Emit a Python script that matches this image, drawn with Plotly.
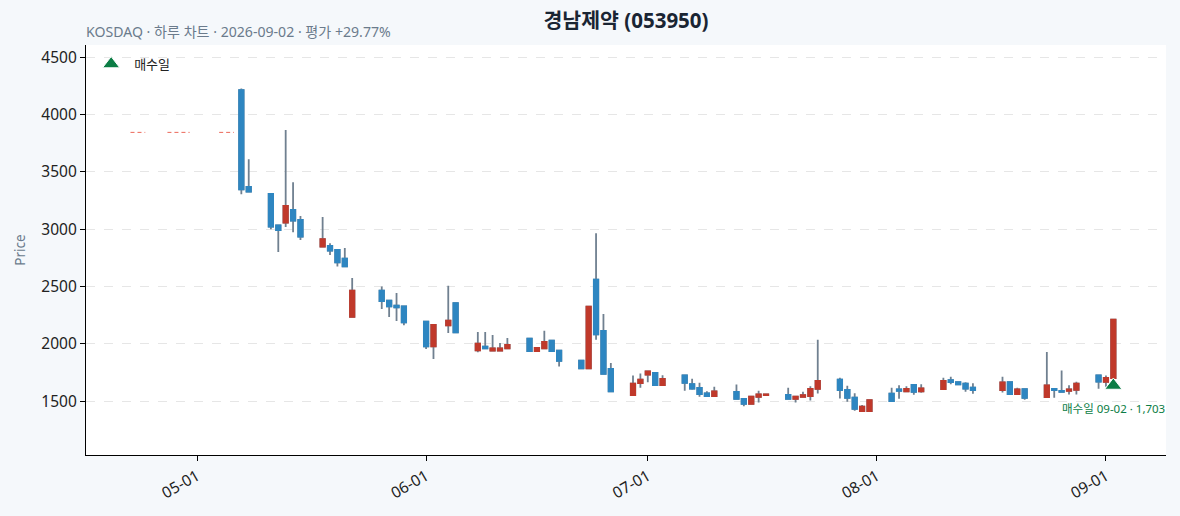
#!/bin/python
'''경남제약 daily candle chart with buy-day marker'''
import plotly.graph_objects as go

# Daily OHLC
dates = ['2026-05-07', '2026-05-08', '2026-05-11', '2026-05-12', '2026-05-13', '2026-05-14', '2026-05-15',
         '2026-05-18', '2026-05-19', '2026-05-20', '2026-05-21', '2026-05-22', '2026-05-26', '2026-05-27',
         '2026-05-28', '2026-05-29', '2026-06-01', '2026-06-02', '2026-06-04', '2026-06-05', '2026-06-08',
         '2026-06-09', '2026-06-10', '2026-06-11', '2026-06-12', '2026-06-15', '2026-06-16', '2026-06-17',
         '2026-06-18', '2026-06-19', '2026-06-22', '2026-06-23', '2026-06-24', '2026-06-25', '2026-06-26',
         '2026-06-29', '2026-06-30', '2026-07-01', '2026-07-02', '2026-07-03', '2026-07-06', '2026-07-07',
         '2026-07-08', '2026-07-09', '2026-07-10', '2026-07-13', '2026-07-14', '2026-07-15', '2026-07-16',
         '2026-07-17', '2026-07-20', '2026-07-21', '2026-07-22', '2026-07-23', '2026-07-24', '2026-07-27',
         '2026-07-28', '2026-07-29', '2026-07-30', '2026-07-31', '2026-08-03', '2026-08-04', '2026-08-05',
         '2026-08-06', '2026-08-07', '2026-08-10', '2026-08-11', '2026-08-12', '2026-08-13', '2026-08-14',
         '2026-08-18', '2026-08-19', '2026-08-20', '2026-08-21', '2026-08-24', '2026-08-25', '2026-08-26',
         '2026-08-27', '2026-08-28', '2026-08-31', '2026-09-01', '2026-09-02']
opens = [4213, 3369, 3308, 3033, 3059, 3169, 3082, 2850, 2856, 2821, 2743, 2236, 2464, 2378,
         2334, 2328, 2195, 1980, 2163, 2357, 1945, 1977, 1943, 1943, 1962, 2047, 1937, 1962,
         2029, 1942, 1855, 1788, 2560, 2114, 1783, 1554, 1658, 1734, 1748, 1641, 1727, 1649,
         1618, 1570, 1545, 1583, 1522, 1479, 1540, 1555, 1557, 1522, 1540, 1545, 1609, 1690,
         1600, 1531, 1414, 1414, 1568, 1603, 1588, 1644, 1586, 1606, 1684, 1667, 1655, 1620,
         1597, 1667, 1562, 1606, 1536, 1609, 1592, 1592, 1600, 1725, 1670, 1703]
highs = [4228, 3610, 3312, 3040, 3865, 3410, 3117, 3108, 2879, 2827, 2836, 2575, 2502, 2383,
         2444, 2332, 2200, 2170, 2508, 2362, 2105, 2105, 2079, 2009, 2053, 2052, 1970, 2116,
         2035, 1950, 1860, 2330, 2966, 2262, 1835, 1725, 1742, 1765, 1752, 1727, 1735, 1696,
         1661, 1588, 1627, 1647, 1530, 1545, 1592, 1560, 1618, 1545, 1583, 1632, 2036, 1705,
         1635, 1571, 1467, 1512, 1618, 1641, 1632, 1650, 1649, 1705, 1714, 1670, 1667, 1658,
         1714, 1672, 1618, 1610, 1931, 1612, 1768, 1641, 1670, 1730, 1725, 2215]
lows = [3306, 3320, 3001, 2801, 3019, 2975, 2906, 2845, 2775, 2676, 2671, 2233, 2305, 2236,
        2201, 2163, 1957, 1870, 2096, 2095, 1928, 1957, 1940, 1940, 1960, 1930, 1933, 1958,
        1935, 1803, 1780, 1780, 2038, 1735, 1585, 1550, 1618, 1667, 1638, 1638, 1592, 1600,
        1540, 1540, 1543, 1520, 1458, 1475, 1490, 1555, 1518, 1490, 1538, 1507, 1568, 1525,
        1496, 1418, 1410, 1412, 1498, 1522, 1585, 1557, 1575, 1600, 1649, 1645, 1583, 1566,
        1577, 1558, 1560, 1513, 1533, 1531, 1580, 1560, 1560, 1609, 1627, 1700]
closes = [3349, 3328, 3024, 2993, 3204, 3076, 2937, 2914, 2815, 2711, 2676, 2464, 2375, 2328,
          2319, 2189, 1980, 2166, 2203, 2102, 2003, 1962, 1962, 1962, 1992, 1937, 1966, 2018,
          1937, 1853, 1788, 2325, 2084, 1740, 1588, 1655, 1690, 1760, 1641, 1696, 1661, 1612,
          1562, 1545, 1586, 1522, 1479, 1540, 1560, 1560, 1522, 1540, 1553, 1609, 1679, 1597,
          1531, 1435, 1453, 1510, 1501, 1592, 1609, 1583, 1612, 1679, 1667, 1649, 1612, 1597,
          1664, 1562, 1603, 1531, 1638, 1597, 1583, 1603, 1655, 1673, 1705, 2212]

# dashed reference level drawn before the candles start (None = break)
ref_dates = ['2026-04-22', '2026-04-23', '2026-04-24', '2026-04-25',
             '2026-04-27', '2026-04-28', '2026-04-29', '2026-04-30', '2026-05-01',
             '2026-05-04', '2026-05-05', '2026-05-06']
ref_level = [3845, 3845, 3845, None, 3845, 3845, 3845, 3845, None, 3845, 3845, 3845]

# buy day
buy_date = ['2026-09-02']
buy_marker_y = [1638]
buy_price = 1703

UP = '#c0392b'
DOWN = '#2e86c1'
WICK = '#708090'
GREEN = '#0b7d45'
FONT = 'Noto Sans, Noto Sans CJK KR'


def main():
    fig = go.Figure()

    # wicks: full candle in grey, bodies get covered by the coloured trace
    fig.add_trace(go.Candlestick(
        x=dates, open=opens, high=highs, low=lows, close=closes,
        increasing=dict(line=dict(color=WICK, width=1.8), fillcolor=WICK),
        decreasing=dict(line=dict(color=WICK, width=1.8), fillcolor=WICK),
        showlegend=False, hoverinfo='skip'))

    # bodies only
    body_hi = [max(o, c) for o, c in zip(opens, closes)]
    body_lo = [min(o, c) for o, c in zip(opens, closes)]
    fig.add_trace(go.Candlestick(
        x=dates, open=opens, high=body_hi, low=body_lo, close=closes,
        increasing=dict(line=dict(color=UP, width=1.8), fillcolor=UP),
        decreasing=dict(line=dict(color=DOWN, width=1.8), fillcolor=DOWN),
        showlegend=False, name='OHLC'))

    fig.add_trace(go.Scatter(x=ref_dates, y=ref_level, mode='lines', connectgaps=False,
                             line=dict(color='rgba(231,76,60,0.85)', width=1, dash='4px,3px'),
                             showlegend=False, hoverinfo='skip'))

    fig.add_trace(go.Scatter(x=buy_date, y=buy_marker_y, mode='markers', name='매수일',
                             marker=dict(symbol='triangle-up', size=15, color=GREEN,
                                         line=dict(color='white', width=1))))

    fig.add_annotation(x=buy_date[0], y=buy_marker_y[0], yshift=-23, showarrow=False,
                       text=f'매수일 09-02 · {buy_price:,}',
                       font=dict(family=FONT, size=11.5, color=GREEN))

    # subtitle
    fig.add_annotation(xref='paper', yref='paper', x=0, y=1, xanchor='left', yanchor='bottom',
                       xshift=-2, yshift=2, showarrow=False,
                       text='KOSDAQ · 하루 차트 · 2026-09-02 · 평가 +29.77%',
                       font=dict(family=FONT, size=14.1, color='#6b7b8c'))

    fig.update_xaxes(type='date', range=['2026-04-15 23:30', '2026-09-09 03:00'],
                     tickformat='%m-%d', dtick='M1', tick0='2026-05-01', tickangle=-30,
                     showline=True, linewidth=1.3, linecolor='black', mirror=False,
                     ticks='outside', ticklen=5, tickcolor='black',
                     showgrid=False, zeroline=False, rangeslider=dict(visible=False),
                     tickfont=dict(family=FONT, size=15.5, color='#222'))
    fig.update_yaxes(range=[1032, 4607], dtick=500, tick0=0,
                     showline=True, linewidth=1.3, linecolor='black',
                     ticks='outside', ticklen=5, tickcolor='black',
                     showgrid=True, gridcolor='#e6e6e6', griddash='dash', gridwidth=1,
                     zeroline=False,
                     title=dict(text='Price', font=dict(family=FONT, size=13.5, color='#6b7b8c'), standoff=12),
                     tickfont=dict(family=FONT, size=15.5, color='#222'))

    fig.update_layout(
        width=1180, height=516,
        margin=dict(l=86, r=14, t=45, b=61),
        paper_bgcolor='#f5f8fb', plot_bgcolor='white',
        title=dict(text='<b>경남제약 (053950)</b>', x=0.5, xref='paper', xanchor='center',
                   y=1 - 21 / 516, yref='container', yanchor='middle',
                   font=dict(family=FONT, size=20.5, color='#1a2533')),
        legend=dict(x=0.002, y=0.99, xanchor='left', yanchor='top', bgcolor='rgba(255,255,255,0)',
                    itemwidth=36, font=dict(family=FONT, size=13, color='#222')),
        font=dict(family=FONT),
        boxgap=0.15,
    )

    fig.write_html('out.html', config={'displayModeBar': False},
                   post_script="document.body.style.margin='0';")


if __name__ == '__main__':
    main()
